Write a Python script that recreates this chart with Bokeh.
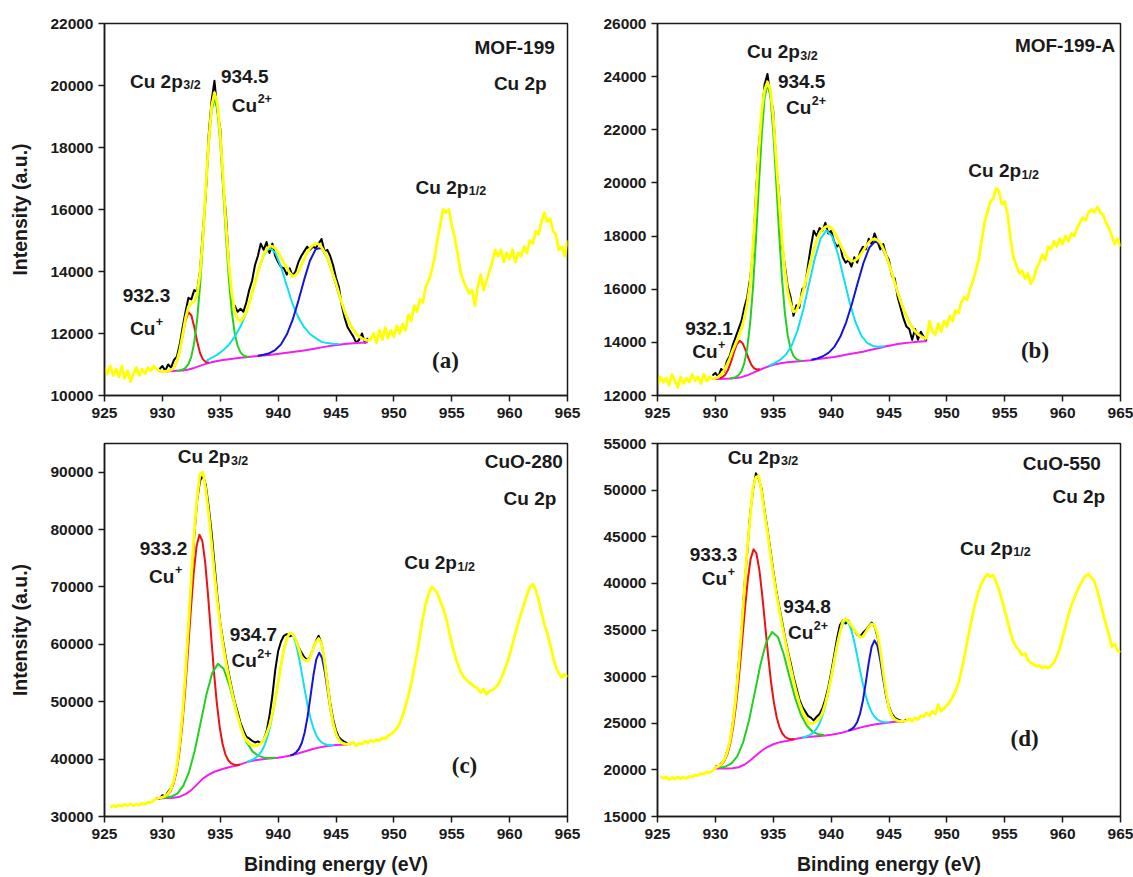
from bokeh.plotting import figure
from bokeh.layouts import column, row
from bokeh.models import FixedTicker, Range1d, BasicTickFormatter
from bokeh.core.properties import value
from bokeh.embed import file_html
from bokeh.resources import INLINE

# ---------------------------------------------------------------- shared
X_TICKS = [925, 930, 935, 940, 945, 950, 955, 960, 965]
X_LIMITS = (925, 965)

# ============================================================ panel (a)
A_Y_LIMITS = (10000, 22000)
A_Y_TICKS = [10000, 12000, 14000, 16000, 18000, 20000, 22000]
A_LEFT_X0 = 925.0          # raw survey left of the fit window (0.25 eV grid)
A_LEFT = [10900, 10700, 10950, 10650, 10850, 10600, 10950, 10550,
          10800, 10450, 10700, 10900, 10650, 10850, 10700, 10900,
          10800, 10950, 10850, 10780]
A_FIT_X0 = 929.75          # fit window (0.25 eV grid)
A_ENV = [10780,
         10780, 10782, 10792, 10821, 10906, 11101, 11454, 11961,
         12487, 12859, 12986, 13026, 13261, 13934, 15108, 16684,
         18189, 19310, 19770, 19420, 18398, 16977, 15494, 14201,
         13278, 12708, 12449, 12399, 12515, 12701, 12977, 13298,
         13639, 13981, 14297, 14542, 14715, 14815, 14810, 14745,
         14615, 14450, 14275, 14126, 13950, 13850, 13880, 14000,
         14200, 14400, 14600, 14750, 14850, 14900, 14880, 14780,
         14630, 14450, 14200, 13900, 13620, 13293, 12990, 12704,
         12475, 12266, 12115, 11990, 11905, 11840, 11800, 11770]
A_RAW = [10850,
         10950, 10800, 11000, 10900, 11150, 11250, 11650, 12200,
         12700, 13150, 13100, 13400, 13350, 14000, 15300, 16500,
         18400, 19500, 20150, 19200, 18600, 16800, 15800, 14200,
         13000, 12900, 12700, 12800, 12700, 13000, 13400, 13700,
         14200, 14500, 14900, 14700, 14950, 14600, 14900, 14500,
         14300, 14150, 14100, 13900, 14100, 13850, 14000, 14300,
         14500, 14650, 14800, 14700, 14800, 14750, 14900, 15050,
         14650, 14700, 14500, 14200, 13800, 13500, 12900, 12500,
         12200, 12050, 11900, 11700, 11800, 12000, 11700, 11850]
A_RIGHT_X0 = 947.75
A_RIGHT = [11770,
           11800, 12000, 11700, 12100, 11800, 12200, 11850, 12100,
           11900, 12250, 12000, 12300, 12100, 12600, 12400, 12900,
           12700, 13100, 13000, 13500, 13700, 14000, 14400, 15000,
           15500, 16000, 15900, 16000, 15500, 15100, 14600, 14000,
           13700, 13500, 13300, 13400, 12900, 13500, 13900, 13400,
           13700, 14000, 14300, 14700, 14500, 14700, 14300, 14600,
           14400, 14700, 14300, 14600, 14500, 14800, 14600, 15000,
           14900, 15300, 15200, 15600, 15900, 15600, 15700, 15300,
           15200, 14700, 14800, 14500, 15000]
A_BG_X0 = 929.75           # 0.5 eV grid
A_BG = [10780, 10780, 10785, 10795, 10808, 10840, 10890, 10955, 11020,
        11075, 11115, 11145, 11172, 11195, 11215, 11235, 11255, 11275,
        11292, 11310, 11330, 11352, 11378, 11402, 11428, 11455, 11485,
        11518, 11552, 11585, 11615, 11640, 11660, 11678, 11692, 11705,
        11715]
A_RED_X0 = 930.75          # 0.25 eV grid
A_RED = [10820, 10905, 11100, 11450, 11935, 12415, 12685, 12590, 12220,
         11750, 11375, 11165, 11080, 11065]
A_GREEN_X0 = 931.25        # 0.25 eV grid
A_GREEN = [10800, 10805, 10835, 10890, 11015, 11255, 11700, 12435, 13515,
           14935, 16535, 18065, 19175, 19600, 19215, 18145, 16660, 15105,
           13730, 12700, 12005, 11600, 11390, 11295, 11260, 11250]
A_CYAN_X0 = 933.75         # 0.5 eV grid
A_CYAN = [11110, 11210, 11320, 11460, 11640, 11900, 12225, 12675, 13295,
          13975, 14520, 14760, 14610, 14150, 13540, 12950, 12520, 12205,
          11985, 11850, 11730, 11690, 11670, 11665]
A_BLUE_X0 = 938.25         # 0.5 eV grid
A_BLUE = [11281, 11312, 11365, 11465, 11650, 11966, 12436, 13053, 13737,
          14348, 14723, 14757, 14448, 13897, 13265, 12694, 12266, 11990,
          11840, 11770]

# ============================================================ panel (b)
B_Y_LIMITS = (12000, 26000)
B_Y_TICKS = [12000, 14000, 16000, 18000, 20000, 22000, 24000, 26000]
B_LEFT_X0 = 925.0
B_LEFT = [12400, 12700, 12500, 12650, 12400, 12800, 12550, 12300,
          12700, 12450, 12650, 12500, 12800, 12550, 12700, 12450,
          12800, 12550, 12700, 12620]
B_FIT_X0 = 929.75
B_ENV = [12620,
         12650, 12700, 12800, 12950, 13150, 13400, 13700, 13950,
         14200, 14500, 14900, 15450, 16200, 17600, 19300, 21200,
         22700, 23500, 23800, 23500, 22500, 20900, 19400, 17900,
         16700, 15900, 15450, 15150, 15200, 15450, 15800, 16200,
         16650, 17100, 17500, 17850, 18100, 18250, 18350, 18370,
         18317, 18172, 17966, 17727, 17489, 17284, 17137, 17063,
         17067, 17143, 17273, 17435, 17608, 17757, 17860, 17895,
         17854, 17732, 17532, 17268, 16950, 16600, 16240, 15887,
         15549, 15244, 14977, 14752, 14567, 14422, 14312, 14232,
         14172, 14130]
B_RAW = [12750,
         12850, 12700, 13000, 12900, 13300, 13500, 13900, 14200,
         14500, 14800, 15300, 15700, 16400, 17400, 19500, 21400,
         22500, 23700, 24100, 23300, 22700, 20700, 19600, 17700,
         16900, 16100, 15700, 15000, 15400, 15300, 16000, 16100,
         16900, 17600, 18200, 18000, 18300, 18200, 18500, 18100,
         18200, 17800, 17600, 17700, 17200, 17000, 17100, 16850,
         17200, 17000, 17400, 17600, 17500, 17900, 17700, 18100,
         17800, 17500, 17700, 17300, 17100, 16500, 16400, 15700,
         15300, 14900, 14600, 14500, 14100, 14500, 14100, 14400,
         14200, 14050]
B_RIGHT_X0 = 948.25
B_RIGHT = [14130, 14800, 14400,
           14300, 14700, 14400, 14800, 14600, 15000, 14800, 15200,
           15100, 15500, 15700, 15600, 16000, 16300, 16700, 17100,
           17800, 18500, 18900, 19300, 19400, 19800, 19700, 19200,
           19300, 18800, 17900, 17200, 16900, 16600, 16700, 16400,
           16600, 16200, 16400, 16800, 17000, 17300, 17100, 17600,
           17500, 17800, 17600, 17900, 17700, 18000, 17800, 18100,
           18000, 18300, 18500, 18700, 18600, 18900, 19000, 18900,
           19100, 18900, 18800, 18500, 18300, 18000, 17700, 17900,
           17600]
B_BG_X0 = 929.75
B_BG = [12620, 12625, 12630, 12640, 12660, 12690, 12760, 12850, 12950,
        13040, 13120, 13180, 13220, 13250, 13270, 13290, 13310, 13330,
        13360, 13390, 13420, 13450, 13490, 13530, 13570, 13610, 13650,
        13700, 13750, 13800, 13850, 13895, 13935, 13965, 13990, 14010,
        14030, 14040]
B_RED_X0 = 930.35
B_RED = [12644, 12685, 12784, 12972, 13265, 13622, 13928, 14060, 13968,
         13714, 13412, 13160, 13022, 12977, 12988]
B_GREEN_X0 = 931.25
B_GREEN = [12643, 12662, 12692, 12762, 12908, 13218, 13772, 14701, 16056,
           17842, 19862, 21781, 23189, 23730, 23269, 21936, 20092, 18142,
           16426, 15131, 14262, 13753, 13488, 13367, 13322, 13312]
B_CYAN_X0 = 934.6
B_CYAN = [13117, 13214, 13339, 13542, 13889, 14451, 15247, 16210, 17176,
          17916, 18215, 17981, 17306, 16405, 15502, 14766, 14264, 13985,
          13864, 13834, 13852]
B_BLUE_X0 = 938.3
B_BLUE = [13347, 13398, 13478, 13613, 13840, 14216, 14754, 15454, 16243,
          16996, 17565, 17805, 17665, 17196, 16528, 15817, 15187, 14713,
          14397, 14220, 14123]

# ============================================================ panel (c)
C_Y_LIMITS = (30000, 95000)
C_Y_TICKS = [30000, 40000, 50000, 60000, 70000, 80000, 90000]
C_LEFT_X0 = 925.5
C_LEFT = [31600, 31900, 31700, 32000, 31800, 32100, 31900, 32200,
          31900, 32100, 32000, 32300, 32100, 32500, 32400, 32800, 33176]
C_FIT_X0 = 929.5
C_ENV = [33176, 33241,
         33358, 33573, 34006, 34838, 36316, 38812, 42656, 48074,
         55016, 63117, 71592, 79419, 85458, 89700, 90000, 87005,
         82805, 77600, 72311, 67440, 63276, 59782, 56811, 54179,
         51770, 49529, 47485, 45741, 44275, 43300, 42700, 42400,
         42300, 42400, 42700, 43300, 44400, 45800, 47900, 50500,
         53372, 56395, 59095, 61044, 61986, 61800, 60900, 59500,
         57900, 57300, 57100, 57700, 59000, 60400, 61000, 60200,
         57300, 53300, 49300, 46267, 44416, 43362, 42864, 42659,
         42597, 42591]
C_RAW = [33300, 33100,
         33700, 33500, 34300, 35000, 36100, 38500, 42300, 47500,
         54500, 62500, 71000, 78800, 85000, 88500, 89400, 87800,
         84000, 79500, 74000, 68500, 63800, 60500, 57500, 54800,
         52300, 50000, 48200, 46300, 45000, 43900, 43600, 43200,
         42900, 43100, 42800, 43300, 44800, 47500, 51000, 55500,
         58800, 60500, 61500, 61800, 61400, 61600, 60900, 59600,
         58600, 57800, 57300, 57800, 59000, 60500, 61500, 60200,
         57300, 53500, 49800, 47000, 45000, 43800, 43300, 43000,
         42700, 42600]
C_RIGHT_X0 = 946.25
C_RIGHT = [42600, 42900, 42300,
           42800, 42600, 43100, 42800, 43300, 43000, 43400, 43200,
           43700, 43500, 44100, 44300, 44800, 45300, 46200, 47500,
           49200, 51000, 53200, 55800, 58500, 61500, 64500, 67000,
           68800, 70000, 69600, 68900, 67600, 66300, 64600, 62500,
           60200, 58300, 56600, 55300, 54400, 53900, 53300, 53000,
           52600, 52300, 51600, 52200, 51300, 51900, 52000, 52400,
           53000, 54000, 55200, 56600, 58200, 60000, 62000, 63800,
           65400, 67000, 68600, 70000, 70500, 69500, 67800, 65600,
           63500, 62000, 60000, 57800, 56000, 55000, 54200, 54800,
           54300]
C_BG_X0 = 929.5
C_BG = [33150, 33200, 33220, 33250, 33450, 33900, 34600, 35600, 36600,
        37300, 37800, 38150, 38450, 38700, 38900, 39250, 39600, 39800,
        39950, 40050, 40150, 40250, 40400, 40600, 40850, 41150, 41450,
        41750, 42000, 42200, 42350, 42450, 42520, 42560]
C_RED_X0 = 930.2
C_RED = [33460, 33783, 34432, 35616, 37647, 40886, 45508, 51461, 58484,
         65756, 72330, 77083, 79100, 78083, 74230, 68456, 61804, 55361,
         49828, 45576, 42627, 40791, 39752, 39245, 39030, 38982, 39069]
C_GREEN_X0 = 929.8
C_GREEN = [33201, 33289, 33482, 33975, 35325, 37742, 41495, 46309, 51200,
           54972, 56600, 55702, 52780, 48929, 45405, 42882, 41305, 40565,
           40254, 40187, 40231]
C_CYAN_X0 = 937.3
C_CYAN = [39502, 39713, 39917, 40211, 40636, 41296, 42272, 43686, 45605,
          48041, 50900, 53974, 56969, 59555, 61316, 62000, 61516, 60015,
          57689, 54899, 52020, 49361, 47125, 45406, 44162, 43336, 42846,
          42596, 42472, 42443, 42452]
C_BLUE_X0 = 941.05
C_BLUE = [40648, 40816, 41161, 41762, 42853, 44701, 47458, 50962, 54610,
          57429, 58550, 57629, 55030, 51607, 48328, 45781, 44128, 43222,
          42801, 42641, 42590]

# ============================================================ panel (d)
D_Y_LIMITS = (15000, 55000)
D_Y_TICKS = [15000, 20000, 25000, 30000, 35000, 40000, 45000, 50000, 55000]
D_LEFT_X0 = 925.25
D_LEFT = [19300, 19100, 19250,
          18950, 19200, 19000, 19250, 19050, 19200, 19100, 19300,
          19250, 19450, 19400, 19600, 19550, 19750, 19700, 19900,
          20251]
D_FIT_X0 = 930.0
D_ENV = [20251, 20369, 20603, 21045, 21806, 23042, 24904, 27524,
         30906, 34947, 39298, 43534, 47114, 50300, 51400, 51500,
         49800, 47500, 45500, 43200, 41000, 39000, 37300, 35600,
         34000, 32500, 31000, 29600, 28300, 27200, 26400, 25700,
         25050, 24970, 25000, 25250, 25500, 26100, 27100, 28400,
         29905, 31599, 33257, 34664, 35900, 36200, 35900, 35500,
         35000, 34600, 34250, 34300, 34800, 35300, 35650, 35500,
         34600, 32800, 30500, 28300, 26606, 25792, 25413, 25264,
         25226, 25220, 25240]
D_RAW = [20400, 20300, 20700, 21000, 21900, 22900, 25000, 27300,
         31200, 34700, 39600, 43200, 47400, 50000, 51800, 51200,
         50100, 47800, 45800, 43600, 41400, 39300, 37600, 36000,
         34300, 32800, 31500, 30000, 28800, 27600, 26800, 26300,
         25800, 25600, 25300, 25700, 26000, 26600, 27600, 28800,
         30400, 32200, 34000, 35500, 36000, 35700, 36000, 35300,
         35000, 34500, 34300, 34700, 35000, 35400, 35800, 35400,
         34300, 32500, 30200, 28000, 26800, 26000, 25600, 25400,
         25300, 25200, 25400]
D_RIGHT_X0 = 946.5
D_RIGHT = [25240, 25500,
           25200, 25600, 25400, 25800, 25700, 26100, 25800, 26300,
           26000, 27000, 26300, 26600, 26900, 27300, 27800, 28500,
           29300, 30600, 32000, 33700, 35300, 36800, 38100, 39200,
           40000, 40600, 41000, 40700, 40900, 40200, 39300, 38300,
           37100, 35900, 34700, 33700, 33200, 32800, 32300, 32500,
           31800, 31500, 31300, 31100, 31200, 30900, 31100, 30900,
           31200, 31500, 32200, 33000, 34200, 35400, 36600, 37600,
           38400, 39200, 39800, 40400, 40800, 41000, 40600, 40200,
           39200, 38000, 36700, 35600, 34500, 33200, 33500, 32800,
           32600]
D_BG_X0 = 930.0
D_BG = [20150, 20150, 20160, 20180, 20280, 20550, 21000, 21550, 22050,
        22450, 22750, 22950, 23080, 23180, 23330, 23450, 23520, 23570,
        23620, 23680, 23760, 23870, 24010, 24180, 24360, 24530, 24680,
        24810, 24920, 25010, 25090, 25150, 25200, 25240]
D_RED_X0 = 930.3
D_RED = [20350, 20574, 20999, 21733, 22915, 24672, 27093, 30141, 33646,
         37212, 40384, 42656, 43645, 43201, 41439, 38717, 35516, 32326,
         29503, 27259, 25623, 24536, 23874, 23514, 23340, 23283, 23301]
D_GREEN_X0 = 930.4
D_GREEN = [20220, 20364, 20710, 21482, 22953, 25267, 28258, 31332, 33719,
           34790, 34259, 32427, 29978, 27667, 25888, 24732, 24094, 23816,
           23740]
D_CYAN_X0 = 937.5
D_CYAN = [23480, 23554, 23652, 23801, 24045, 24425, 24998, 25818, 26913,
          28290, 29888, 31599, 33257, 34664, 35626, 36030, 35796, 34994,
          33747, 32234, 30658, 29175, 27913, 26913, 26188, 25695, 25395,
          25221, 25142, 25114, 25120]
D_BLUE_X0 = 941.5
D_BLUE = [24206, 24359, 24623, 25117, 26016, 27449, 29393, 31505, 33202,
          33885, 33312, 31725, 29723, 27894, 26576, 25792, 25413, 25264,
          25226]

# ------------------------------------------------------- annotation texts
# (main text, script text, script kind, x, y, align)
A_NOTES = [("MOF-199", "", "", 963.9, 21012, "right"),
           ("Cu 2p", "", "", 963.2, 19851, "right"),
           ("Cu 2p", "3/2", "sub", 927.2, 19916, "left"),
           ("934.5", "", "", 935.06, 20077, "left"),
           ("Cu", "2+", "sup", 936.0, 19132, "left"),
           ("932.3", "", "", 926.57, 13008, "left"),
           ("Cu", "+", "sup", 927.2, 11934, "left"),
           ("Cu 2p", "1/2", "sub", 951.87, 16500, "left")]
B_NOTES = [("MOF-199-A", "", "", 964.54, 24924, "right"),
           ("Cu 2p", "3/2", "sub", 932.74, 24674, "left"),
           ("934.5", "", "", 935.4, 23548, "left"),
           ("Cu", "2+", "sup", 936.1, 22572, "left"),
           ("932.1", "", "", 927.39, 14252, "left"),
           ("Cu", "+", "sup", 928.0, 13376, "left"),
           ("Cu 2p", "1/2", "sub", 951.85, 20195, "left")]
C_NOTES = [("CuO-280", "", "", 964.6, 90694, "right"),
           ("Cu 2p", "", "", 964.04, 84131, "right"),
           ("Cu 2p", "3/2", "sub", 931.32, 91449, "left"),
           ("933.2", "", "", 928.05, 75419, "left"),
           ("Cu", "+", "sup", 928.85, 70656, "left"),
           ("934.7", "", "", 935.81, 60492, "left"),
           ("Cu", "2+", "sup", 935.97, 56020, "left"),
           ("Cu 2p", "1/2", "sub", 950.89, 72979, "left")]
D_NOTES = [("CuO-550", "", "", 963.31, 52143, "right"),
           ("Cu 2p", "", "", 963.68, 48571, "right"),
           ("Cu 2p", "3/2", "sub", 931.06, 52786, "left"),
           ("933.3", "", "", 927.79, 42321, "left"),
           ("Cu", "+", "sup", 928.83, 39821, "left"),
           ("934.8", "", "", 935.87, 36786, "left"),
           ("Cu", "2+", "sup", 936.27, 34000, "left"),
           ("Cu 2p", "1/2", "sub", 951.13, 43036, "left")]
A_TAG = ("(a)", 953.3, 10881)
B_TAG = ("(b)", 956.4, 13376)
C_TAG = ("(c)", 955.0, 37434)
D_TAG = ("(d)", 955.5, 22500)

# ---------------------------------------------------------------- styles
SANS = "Liberation Sans"
SERIF = "Liberation Serif"
INK = "#1a1a1a"
COL_RAW = "#000000"
COL_FIT = "#FFFF00"
COL_BG = "#F020F0"
COL_RED = "#EE1111"
COL_GREEN = "#22D022"
COL_CYAN = "#10E0F0"
COL_BLUE = "#1414D8"
MAIN_PX = 19
SCRIPT_PX = 12.5
TAG_PX = 23
MAIN_SHIFT = -7      # screen px, lifts text so its baseline sits on y
SCRIPT_SHIFT = -6
TAG_SHIFT = -8
EM = {"C": 0.722, "u": 0.611, " ": 0.278, "2": 0.556, "p": 0.611}


def xgrid(x0, n, step):
    return [x0 + step * i for i in range(n)]


def add_curve(p, x0, step, ys, color, width):
    p.line(xgrid(x0, len(ys), step), ys, line_color=color,
           line_width=width, line_join="round")


def add_note(p, main, script, kind, x, y, align):
    p.text(x=[x], y=[y], text=[main], y_offset=MAIN_SHIFT,
           text_font=value(SANS),
           text_font_style="bold", text_font_size=f"{MAIN_PX}px",
           text_align=align, text_baseline="alphabetic", text_color=INK)
    if script:
        dx = sum(EM.get(ch, 0.556) for ch in main) * MAIN_PX + 0.5
        dy = (-8 if kind == "sup" else 3) + SCRIPT_SHIFT
        p.text(x=[x], y=[y], text=[script], x_offset=dx, y_offset=dy,
               text_font=value(SANS), text_font_style="bold",
               text_font_size=f"{SCRIPT_PX}px", text_align="left",
               text_baseline="alphabetic", text_color=INK)


def make_panel(width, height, borders, ylim, yticks, left, fit, right, bg,
               comps, notes, tag, ylabel, xlabel):
    bl, br, bt, bb = borders
    p = figure(width=width, height=height, title=None,
               x_range=Range1d(*X_LIMITS), y_range=Range1d(*ylim),
               output_backend="svg", toolbar_location=None,
               min_border_left=bl, min_border_right=br,
               min_border_top=bt, min_border_bottom=bb)
    p.grid.visible = False
    p.outline_line_color = INK
    p.outline_line_width = 1.5
    p.xaxis.ticker = FixedTicker(ticks=X_TICKS)
    p.yaxis.ticker = FixedTicker(ticks=yticks)
    p.yaxis.formatter = BasicTickFormatter(use_scientific=False)
    for ax in (p.xaxis[0], p.yaxis[0]):
        ax.axis_line_color = INK
        ax.axis_line_width = 1.5
        ax.major_tick_line_color = INK
        ax.major_tick_line_width = 1.5
        ax.major_tick_in = 0
        ax.major_tick_out = 6
        ax.minor_tick_line_color = None
        ax.major_label_text_font = SANS
        ax.major_label_text_font_style = "bold"
        ax.major_label_text_font_size = "15.5px"
        ax.major_label_text_color = INK
        ax.axis_label_text_font = SANS
        ax.axis_label_text_font_style = "bold"
        ax.axis_label_text_font_size = "19.5px"
        ax.axis_label_text_color = INK
    p.xaxis.major_label_standoff = 6
    p.yaxis.major_label_standoff = 5
    if ylabel:
        p.yaxis.axis_label = ylabel
        p.yaxis.axis_label_standoff = 16
    if xlabel:
        p.xaxis.axis_label = xlabel
        p.xaxis.axis_label_standoff = 11

    (lx0, lys), (fx0, env, raw), (rx0, rys) = left, fit, right
    add_curve(p, fx0, 0.25, raw, COL_RAW, 2)
    add_curve(p, bg[0], 0.5, bg[1], COL_BG, 2)
    for (cx0, cstep, cys), col in zip(comps, (COL_RED, COL_GREEN, COL_CYAN, COL_BLUE)):
        add_curve(p, cx0, cstep, cys, col, 2)
    add_curve(p, fx0, 0.25, env, COL_FIT, 2.8)
    add_curve(p, lx0, 0.25, lys, COL_FIT, 2.8)
    add_curve(p, rx0, 0.25, rys, COL_FIT, 2.8)

    for n in notes:
        add_note(p, *n)
    p.text(x=[tag[1]], y=[tag[2]], text=[tag[0]], y_offset=TAG_SHIFT,
           text_font=value(SERIF),
           text_font_style="bold", text_font_size=f"{TAG_PX}px",
           text_align="left", text_baseline="alphabetic", text_color=INK)
    return p


LEFT_W, RIGHT_W = 600, 533
TOP_H, BOT_H = 430, 447

pa = make_panel(LEFT_W, TOP_H, (104, 33, 23, 35), A_Y_LIMITS, A_Y_TICKS,
                (A_LEFT_X0, A_LEFT), (A_FIT_X0, A_ENV, A_RAW), (A_RIGHT_X0, A_RIGHT),
                (A_BG_X0, A_BG),
                [(A_RED_X0, 0.25, A_RED), (A_GREEN_X0, 0.25, A_GREEN),
                 (A_CYAN_X0, 0.5, A_CYAN), (A_BLUE_X0, 0.5, A_BLUE)],
                A_NOTES, A_TAG, "Intensity (a.u.)", None)
pb = make_panel(RIGHT_W, TOP_H, (57, 13, 23, 35), B_Y_LIMITS, B_Y_TICKS,
                (B_LEFT_X0, B_LEFT), (B_FIT_X0, B_ENV, B_RAW), (B_RIGHT_X0, B_RIGHT),
                (B_BG_X0, B_BG),
                [(B_RED_X0, 0.25, B_RED), (B_GREEN_X0, 0.25, B_GREEN),
                 (B_CYAN_X0, 0.5, B_CYAN), (B_BLUE_X0, 0.5, B_BLUE)],
                B_NOTES, B_TAG, None, None)
pc = make_panel(LEFT_W, BOT_H, (104, 33, 13, 60), C_Y_LIMITS, C_Y_TICKS,
                (C_LEFT_X0, C_LEFT), (C_FIT_X0, C_ENV, C_RAW), (C_RIGHT_X0, C_RIGHT),
                (C_BG_X0, C_BG),
                [(C_RED_X0, 0.25, C_RED), (C_GREEN_X0, 0.5, C_GREEN),
                 (C_CYAN_X0, 0.25, C_CYAN), (C_BLUE_X0, 0.25, C_BLUE)],
                C_NOTES, C_TAG, "Intensity (a.u.)", "Binding energy (eV)")
pd = make_panel(RIGHT_W, BOT_H, (57, 13, 13, 60), D_Y_LIMITS, D_Y_TICKS,
                (D_LEFT_X0, D_LEFT), (D_FIT_X0, D_ENV, D_RAW), (D_RIGHT_X0, D_RIGHT),
                (D_BG_X0, D_BG),
                [(D_RED_X0, 0.25, D_RED), (D_GREEN_X0, 0.5, D_GREEN),
                 (D_CYAN_X0, 0.25, D_CYAN), (D_BLUE_X0, 0.25, D_BLUE)],
                D_NOTES, D_TAG, None, "Binding energy (eV)")

layout = column(row(pa, pb), row(pc, pd))
open("out.html", "w").write(file_html(layout, INLINE))
